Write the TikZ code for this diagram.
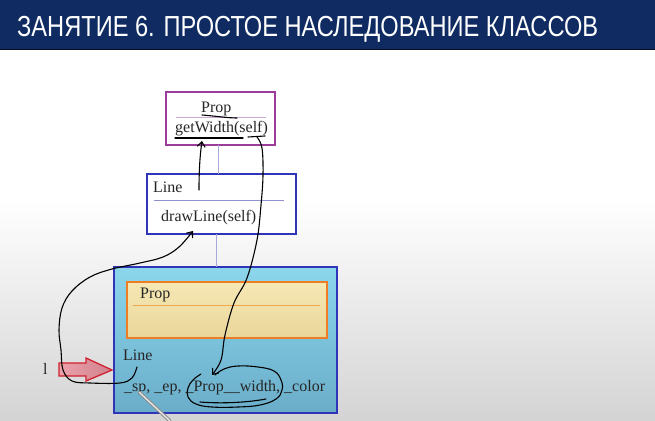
\documentclass[tikz,border=0pt]{standalone}
\usepackage{fontspec}
\setmainfont{Liberation Serif}
\newfontfamily\headfont{Liberation Sans}
\usetikzlibrary{arrows.meta}

\definecolor{headblue}{HTML}{0F2B62}
\definecolor{propvio}{HTML}{9B3E9B}
\definecolor{propdiv}{HTML}{C9A8D6}
\definecolor{lineblue}{HTML}{3034B8}
\definecolor{linediv}{HTML}{9090D0}
\definecolor{linkgray}{HTML}{A8A8DC}
\definecolor{boxtop}{HTML}{8CD6EC}
\definecolor{boxbot}{HTML}{6AADC9}
\definecolor{wheattop}{HTML}{F6E8B4}
\definecolor{wheatbot}{HTML}{E9D699}
\definecolor{orangeedge}{HTML}{EE7E24}
\definecolor{orangediv}{HTML}{F0A850}
\definecolor{arrowfill}{HTML}{E8909C}
\definecolor{arrowedge}{HTML}{D0202E}

\tikzset{
  txt/.style={anchor=base west, inner sep=0pt, font=\fontsize{16}{18}\selectfont, text=black!85},
  classbox/.style={line width=1.4pt},
  divider/.style={line width=0.8pt},
  link/.style={draw=linkgray, line width=0.9pt},
  hand/.style={draw=black, line width=1.1pt, line cap=round, line join=round},
  handtip/.style={hand, -{Straight Barb[length=5pt,width=8pt]}},
}

\begin{document}
\begin{tikzpicture}[x=1pt,y=-1pt]
\useasboundingbox (0,0) rectangle (655,420);

% page background, greying towards the bottom
\fill[white] (0,0) rectangle (655,200);
\shade[top color=white, bottom color=black!17] (0,200) rectangle (655,420);

% title bar
\fill[headblue] (0,0) rectangle (655,50);
\draw[black!70!headblue, line width=1pt] (0,49.5) -- (655,49.5);
\node[anchor=base west, inner sep=0pt, text=white, font=\headfont\fontsize{29}{32}\selectfont]
  (title) at (17,36.5) {\resizebox{581pt}{\height}{ЗАНЯТИЕ 6. ПРОСТОЕ НАСЛЕДОВАНИЕ КЛАССОВ}};

% class Prop
\draw[classbox, draw=propvio, fill=white] (166,92) rectangle (275,145);
\coordinate (propbot) at (218,145);
\draw[divider, propdiv] (176,117.5) -- (266,117.5);
\node[txt] (propname) at (201,112) {Prop};
\node[txt] (getwidth) at (175,132) {getWidth(self)};

% class Line
\draw[classbox, draw=lineblue, fill=white] (147,174) rectangle (296,234);
\coordinate (linetop) at (218,174);
\coordinate (linebot) at (216,234);
\draw[divider, linediv] (154,200) -- (284,200);
\node[txt] (linename) at (153,192) {Line};
\node[txt] (drawline) at (161,221) {drawLine(self)};

% instance of Line with its Prop part
\shade[top color=boxtop, bottom color=boxbot] (114,267) rectangle (337,413);
\draw[classbox, draw=lineblue] (114,267) rectangle (337,413);
\coordinate (objtop) at (216,267);
\draw[link] (propbot) -- (linetop);
\draw[link] (linebot) -- (objtop);

\shade[top color=wheattop, bottom color=wheatbot] (127,282) rectangle (327,338);
\draw[line width=2pt, orangeedge] (127,282) rectangle (327,338);
\draw[divider, orangediv] (133,305) -- (320,305);
\node[txt] (innerprop) at (140,298) {Prop};
\node[txt] (objline) at (123,360) {Line};
\node[txt] (fields) at (124,391) {\_sp, \_ep, \_Prop\_\_width, \_color};

% variable l pointing at the object
\node[txt] (varl) at (43,374) {l};
\shade[left color=arrowfill!85!white, right color=arrowfill!90!black]
  (59,363) -- (86,363) -- (86,358) -- (112,370) -- (86,381) -- (86,376) -- (59,376) -- cycle;
\draw[draw=arrowedge, line width=1.3pt, line join=miter]
  (59,363) -- (86,363) -- (86,358) -- (112,370) -- (86,381) -- (86,376) -- (59,376) -- cycle;
\coordinate (ptr) at (112,370);

% hand-drawn notes
\draw[hand] (202,115) .. controls (215,116) and (228,118) .. (237,118);
\draw[hand] (175,138) -- (243,138);
\draw[hand] (248,137) -- (265,136);

\coordinate (upfrom) at (199,190);
\coordinate (upto) at (202,141);
\draw[handtip] (upfrom) .. controls (199,170) and (200,155) .. (upto);

\coordinate (loopfrom) at (137,367);
\coordinate (loopto) at (193,231);
\draw[handtip] plot[smooth, tension=0.6] coordinates {
  (loopfrom) (132,378) (120,383) (90,383) (72,381) (63,370) (61,350)
  (59,330) (62,308) (72,291) (90,277) (112,269) (140,263) (163,257)
  (179,247) (loopto)};

\coordinate (selffrom) at (257,137);
\coordinate (selfto) at (212,375);
\draw[handtip] plot[smooth, tension=0.6] coordinates {
  (selffrom) (262,148) (263,175) (261,205) (257,240) (247,278)
  (234,303) (225,335) (221,360) (selfto)};

\draw[hand] plot[smooth, tension=0.7] coordinates {
  (215,375) (224,369) (238,366) (258,367) (274,371) (281,380) (282,390)
  (276,399) (260,405) (238,407) (212,407) (196,404) (188,397) (188,388)
  (193,380) (201,374)};
\draw[hand] (200,402) .. controls (225,404) and (250,402) .. (266,399);

% stylus tip
\draw[black!45, line width=3.4pt, line cap=round] (139,392) -- (170,421);
\draw[white!90!black, line width=1.4pt, line cap=round] (139.5,392.5) -- (170,421);
\end{tikzpicture}
\end{document}
